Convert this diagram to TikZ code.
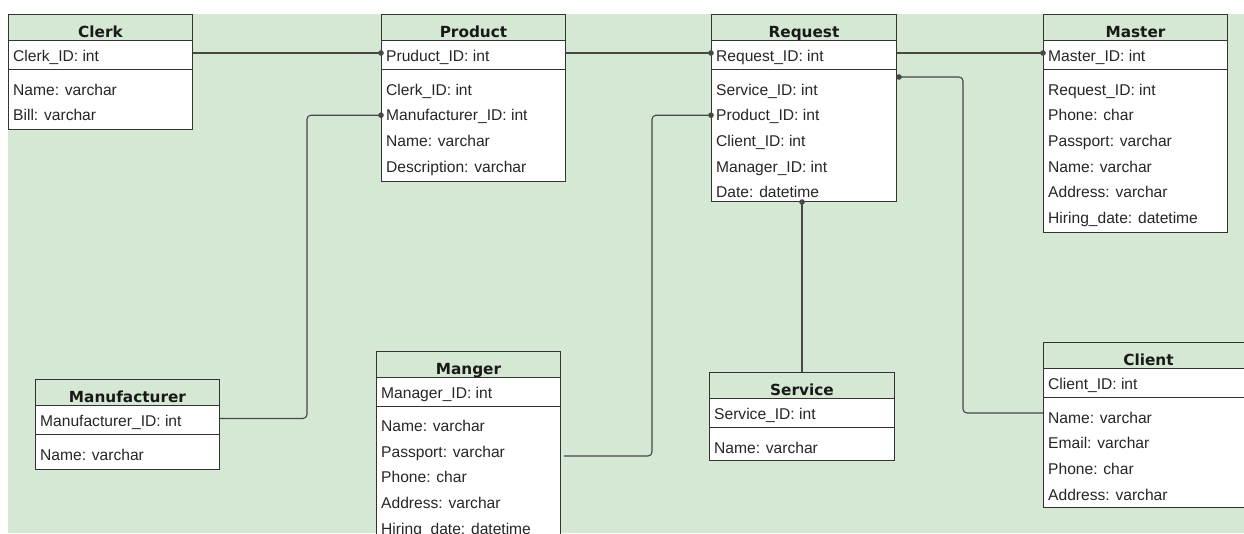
\documentclass[tikz,border=0pt]{standalone}
\usepackage{fontspec}
\setmainfont{Liberation Sans}
\newfontfamily\headfont{DejaVu Sans}

\definecolor{erbg}{HTML}{D5E8D4}
\definecolor{erline}{HTML}{333333}
\definecolor{erlink}{HTML}{474747}
\definecolor{ertext}{HTML}{262626}

\tikzset{
  headbox/.style={draw=erline, fill=erbg, line width=1pt, minimum height=26pt,
    inner sep=0pt, anchor=north west},
  keybox/.style={draw=erline, fill=white, line width=1pt, minimum height=29pt,
    inner sep=0pt, anchor=north west},
  bodybox/.style={draw=erline, fill=white, line width=1pt,
    inner sep=0pt, anchor=north west},
  headtext/.style={font=\headfont\bfseries\fontsize{15.3}{18}\selectfont,
    text=black!90, inner sep=0pt, text height=11pt, text depth=0pt},
  fieldtext/.style={font=\fontsize{15.6}{18}\selectfont, text=ertext,
    inner sep=0pt, text height=11pt, text depth=0pt, anchor=west},
  link/.style={draw=erlink, line width=1.1pt, rounded corners=4pt},
  fkdot/.style={fill=erlink},
}

% #1 id, #2 left x, #3 top y, #4 width, #5 bottom y, #6 heading, #7 key field
\newcommand\erEntity[7]{%
  \node[headbox, minimum width=#4pt] (#1-title) at (#2,#3) {};
  \node[headtext, yshift=-4.5pt] (#1-name) at (#1-title.center) {#6};
  \node[keybox, minimum width=#4pt] (#1-pk) at (#2,#3+26) {};
  \node[fieldtext] (#1-key) at (#2+5,#3+42.2) {#7};
  \node[bodybox, minimum width=#4pt, minimum height=#5pt-#3pt-55pt] (#1-body) at (#2,#3+55) {};
}
% #1 node id, #2 table id, #3 row index, #4 text
\newcommand\erField[4]{%
  \node[fieldtext] (#1) at ([xshift=5pt, yshift={-20.5pt-#3*25.7pt}]#2-body.north west) {#4};
}

\begin{document}
\begin{tikzpicture}[x=1pt, y=-1pt]
  \useasboundingbox (0,0) rectangle (1244,533);
  \clip (0,0) rectangle (1244,533);
  \fill[erbg] (8,14) rectangle (1244,533);

  % tables
  \erEntity{clerk}{8}{14}{184}{129}{Clerk}{Clerk\_ID: int}
  \erField{clerk-name}{clerk}{0}{Name: varchar}
  \erField{clerk-bill}{clerk}{1}{Bill: varchar}

  \erEntity{prod}{381}{14}{184}{181}{Product}{Pruduct\_ID: int}
  \erField{prod-clerk}{prod}{0}{Clerk\_ID: int}
  \erField{prod-mfr}{prod}{1}{Manufacturer\_ID: int}
  \erField{prod-name}{prod}{2}{Name: varchar}
  \erField{prod-desc}{prod}{3}{Description: varchar}

  \erEntity{req}{711}{14}{185}{201}{Request}{Request\_ID: int}
  \erField{req-svc}{req}{0}{Service\_ID: int}
  \erField{req-prod}{req}{1}{Product\_ID: int}
  \erField{req-cli}{req}{2}{Client\_ID: int}
  \erField{req-mgr}{req}{3}{Manager\_ID: int}
  \erField{req-date}{req}{4}{Date: datetime}

  \erEntity{mst}{1043}{14}{184}{232}{Master}{Master\_ID: int}
  \erField{mst-req}{mst}{0}{Request\_ID: int}
  \erField{mst-phone}{mst}{1}{Phone: char}
  \erField{mst-pass}{mst}{2}{Passport: varchar}
  \erField{mst-name}{mst}{3}{Name: varchar}
  \erField{mst-addr}{mst}{4}{Address: varchar}
  \erField{mst-hire}{mst}{5}{Hiring\_date: datetime}

  \erEntity{mfr}{35}{379}{184}{469}{Manufacturer}{Manufacturer\_ID: int}
  \erField{mfr-name}{mfr}{0}{Name: varchar}

  \erEntity{mgr}{376}{350.5}{184}{548}{Manger}{Manager\_ID: int}
  \erField{mgr-name}{mgr}{0}{Name: varchar}
  \erField{mgr-pass}{mgr}{1}{Passport: varchar}
  \erField{mgr-phone}{mgr}{2}{Phone: char}
  \erField{mgr-addr}{mgr}{3}{Address: varchar}
  \erField{mgr-hire}{mgr}{4}{Hiring\_date: datetime}

  \erEntity{svc}{709}{372}{185}{460}{Service}{Service\_ID: int}
  \erField{svc-name}{svc}{0}{Name: varchar}

  \erEntity{cli}{1043}{342}{210}{507}{Client}{Client\_ID: int}
  \erField{cli-name}{cli}{0}{Name: varchar}
  \erField{cli-mail}{cli}{1}{Email: varchar}
  \erField{cli-phone}{cli}{2}{Phone: char}
  \erField{cli-addr}{cli}{3}{Address: varchar}

  % connector bends and free ends
  \coordinate (mfrbend) at (307,0);
  \coordinate (mgrbend) at (652,0);
  \coordinate (clibend) at (963,0);
  \coordinate (mgrout) at ([xshift=3pt, yshift=-50.5pt]mgr-body.north east);
  \coordinate (reqout) at ([xshift=2pt, yshift=-8pt]req-body.north east);
  \coordinate (cliin) at ([yshift=-16pt]cli-body.north west);

  % relations
  \draw[link] ([yshift=2pt]clerk-pk.east) -- ([yshift=2pt]prod-pk.west);
  \draw[link] ([yshift=2pt]prod-pk.east) -- ([yshift=2pt]req-pk.west);
  \draw[link] ([yshift=2pt]req-pk.east) -- ([yshift=2pt]mst-pk.west);
  \draw[link] ([yshift=1.5pt]mfr-pk.east) -| (mfrbend |- prod-mfr) -- (prod-body.west |- prod-mfr);
  \draw[link] (mgrout) -| (mgrbend |- req-prod) -- (req-body.west |- req-prod);
  \draw[link] (svc-title.north |- req-body.south) -- (svc-title.north);
  \draw[link] (reqout) -| (clibend |- cliin) -- (cliin);

  % key markers
  \fill[fkdot] ([yshift=2pt]prod-pk.west) circle (2.8pt);
  \fill[fkdot] ([yshift=2pt]req-pk.west) circle (2.8pt);
  \fill[fkdot] ([yshift=2pt]mst-pk.west) circle (2.8pt);
  \fill[fkdot] (prod-body.west |- prod-mfr) circle (2.8pt);
  \fill[fkdot] (req-body.west |- req-prod) circle (2.8pt);
  \fill[fkdot] (svc-title.north |- req-body.south) circle (2.8pt);
  \fill[fkdot] (reqout) circle (2.8pt);
\end{tikzpicture}
\end{document}
